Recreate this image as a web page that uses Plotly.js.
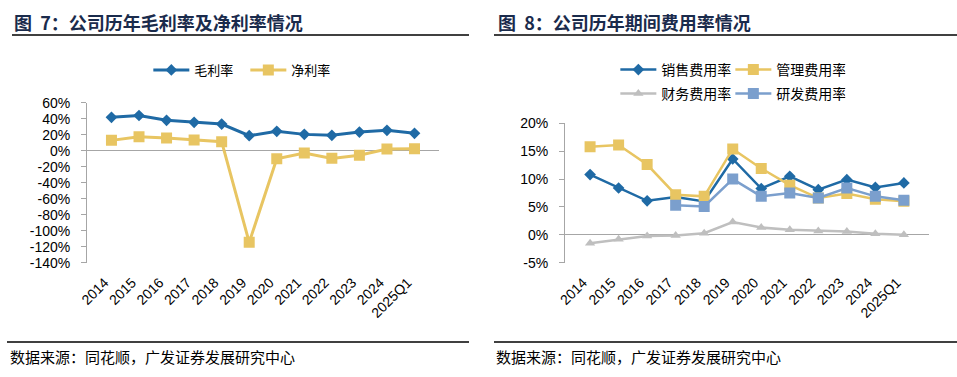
<!DOCTYPE html>
<html>
<head>
<meta charset="utf-8">
<script src="https://cdn.plot.ly/plotly-3.0.1.min.js"></script>
<style>
html,body{margin:0;padding:0;background:#fff;}
#chart{width:957px;height:377px;}
</style>
</head>
<body>
<div id="chart"></div>
<script>
const categories = ["2014","2015","2016","2017","2018","2019","2020","2021","2022","2023","2024","2025Q1"];
const grossMargin = [41.7, 44.0, 38.0, 35.4, 33.3, 18.8, 24.2, 20.4, 19.2, 23.3, 25.4, 21.7];
const netMargin = [12.9, 17.5, 15.8, 13.3, 11.3, -114.6, -10.0, -2.9, -9.6, -5.8, 2.1, 2.5];
const salesRate = [10.8, 8.4, 6.1, 6.8, 6.0, 13.6, 8.3, 10.5, 8.1, 9.9, 8.5, 9.3];
const adminRate = [15.8, 16.1, 12.6, 7.2, 6.9, 15.4, 11.9, 8.9, 6.6, 7.4, 6.4, 6.0];
const financeRate = [-1.5, -0.8, -0.2, -0.1, 0.3, 2.3, 1.3, 0.9, 0.7, 0.6, 0.2, 0.0];
const rdRate = [null, null, null, 5.3, 5.1, 10.0, 6.9, 7.5, 6.6, 8.4, 6.9, 6.2];
const leftTicks = [60, 40, 20, 0, -20, -40, -60, -80, -100, -120, -140];
const rightTicks = [20, 15, 10, 5, 0, -5];

const cBlue = "#1f6aa5", cYellow = "#e8c562", cGray = "#bfbfbf", cLight = "#7b9fcd";
const cjk = "Noto Sans CJK SC";

const traces = [
  {x: categories, y: grossMargin, name: "毛利率", type: "scatter", mode: "lines+markers",
   line: {color: cBlue, width: 3}, marker: {symbol: "diamond", size: 9, color: cBlue},
   xaxis: "x", yaxis: "y", legend: "legend"},
  {x: categories, y: netMargin, name: "净利率", type: "scatter", mode: "lines+markers",
   line: {color: cYellow, width: 3}, marker: {symbol: "square", size: 11, color: cYellow},
   xaxis: "x", yaxis: "y", legend: "legend"},
  {x: categories, y: salesRate, name: "销售费用率", type: "scatter", mode: "lines+markers",
   line: {color: cBlue, width: 2.5}, marker: {symbol: "diamond", size: 9, color: cBlue},
   xaxis: "x2", yaxis: "y2", legend: "legend2"},
  {x: categories, y: adminRate, name: "管理费用率", type: "scatter", mode: "lines+markers",
   line: {color: cYellow, width: 2.5}, marker: {symbol: "square", size: 11, color: cYellow},
   xaxis: "x2", yaxis: "y2", legend: "legend2"},
  {x: categories, y: financeRate, name: "财务费用率", type: "scatter", mode: "lines+markers",
   line: {color: cGray, width: 2.5}, marker: {symbol: "triangle-up", size: 9, color: cGray},
   xaxis: "x2", yaxis: "y2", legend: "legend3"},
  {x: categories, y: rdRate, name: "研发费用率", type: "scatter", mode: "lines+markers",
   line: {color: cLight, width: 2.5}, marker: {symbol: "square", size: 11, color: cLight},
   xaxis: "x2", yaxis: "y2", legend: "legend3"}
];

const tickFont = {family: "Liberation Sans, Arial, sans-serif", size: 14, color: "#000"};
const xTickFont = {family: "Liberation Sans, Arial, sans-serif", size: 14, color: "#000"};

function yax(domain, range, ticks, anchor) {
  return {domain: domain, range: range, anchor: anchor, tickvals: ticks, ticktext: ticks.map(v => v + "%"),
    showgrid: false, showline: true, linecolor: "#a6a6a6", linewidth: 1,
    ticks: "outside", ticklen: 5, tickcolor: "#a6a6a6", tickfont: tickFont, ticklabelstandoff: 8,
    zeroline: true, zerolinecolor: "#a6a6a6", zerolinewidth: 1.3, fixedrange: true};
}
function xax(domain, anchor) {
  return {domain: domain, anchor: anchor, type: "category", showgrid: false, showline: false,
    ticks: "", tickangle: -45, tickfont: xTickFont, ticklabelstandoff: 8, ticklabelshift: -7, fixedrange: true};
}

const legBase = {orientation: "h", xanchor: "left", yanchor: "middle", bgcolor: "rgba(0,0,0,0)",
  font: {family: cjk, size: 13, color: "#000"}, itemwidth: 36, tracegroupgap: 0};
const rightLegFont = {family: cjk, size: 14, color: "#000"};

const layout = {
  width: 957, height: 377,
  margin: {l: 0, r: 0, t: 0, b: 0},
  paper_bgcolor: "#fff", plot_bgcolor: "#fff",
  xaxis: xax([0.0909, 0.4587], "y"),
  yaxis: yax([0.3032, 0.7276], [-140, 60], leftTicks, "x"),
  xaxis2: xax([0.5904, 0.9707], "y2"),
  yaxis2: yax([0.3032, 0.6729], [-5, 20], rightTicks, "x2"),
  legend: Object.assign({}, legBase, {x: 0.155, y: 1 - 70/377, entrywidth: 46}),
  legend2: Object.assign({}, legBase, {x: 0.643, y: 1 - 70/377, font: rightLegFont, entrywidth: 64}),
  legend3: Object.assign({}, legBase, {x: 0.643, y: 1 - 94/377, font: rightLegFont, entrywidth: 64}),
  showlegend: true,
  annotations: [
    {text: "<b>图  7：公司历年毛利率及净利率情况</b>", xref: "paper", yref: "paper", x: 12/957, y: 1 - 22/377,
     xanchor: "left", yanchor: "middle", showarrow: false, font: {family: cjk, size: 18, color: "#1a2b4c"}},
    {text: "<b>图  8：公司历年期间费用率情况</b>", xref: "paper", yref: "paper", x: 496/957, y: 1 - 22/377,
     xanchor: "left", yanchor: "middle", showarrow: false, font: {family: cjk, size: 18, color: "#1a2b4c"}},
    {text: "数据来源：同花顺，广发证券发展研究中心", xref: "paper", yref: "paper", x: 8/957, y: 1 - 356/377,
     xanchor: "left", yanchor: "middle", showarrow: false, font: {family: cjk, size: 15, color: "#000"}},
    {text: "数据来源：同花顺，广发证券发展研究中心", xref: "paper", yref: "paper", x: 494/957, y: 1 - 356/377,
     xanchor: "left", yanchor: "middle", showarrow: false, font: {family: cjk, size: 15, color: "#000"}}
  ],
  shapes: [
    {type: "line", xref: "paper", yref: "paper", x0: 12/957, x1: 469/957, y0: 1 - 35/377, y1: 1 - 35/377, line: {color: "#000", width: 1.5}},
    {type: "line", xref: "paper", yref: "paper", x0: 494/957, x1: 1, y0: 1 - 35/377, y1: 1 - 35/377, line: {color: "#000", width: 1.5}},
    {type: "line", xref: "paper", yref: "paper", x0: 7/957, x1: 469/957, y0: 1 - 342/377, y1: 1 - 342/377, line: {color: "#000", width: 1.5}},
    {type: "line", xref: "paper", yref: "paper", x0: 494/957, x1: 1, y0: 1 - 342/377, y1: 1 - 342/377, line: {color: "#000", width: 1.5}}
  ]
};

Plotly.newPlot("chart", traces, layout, {displayModeBar: false, staticPlot: true});
</script>
</body>
</html>
